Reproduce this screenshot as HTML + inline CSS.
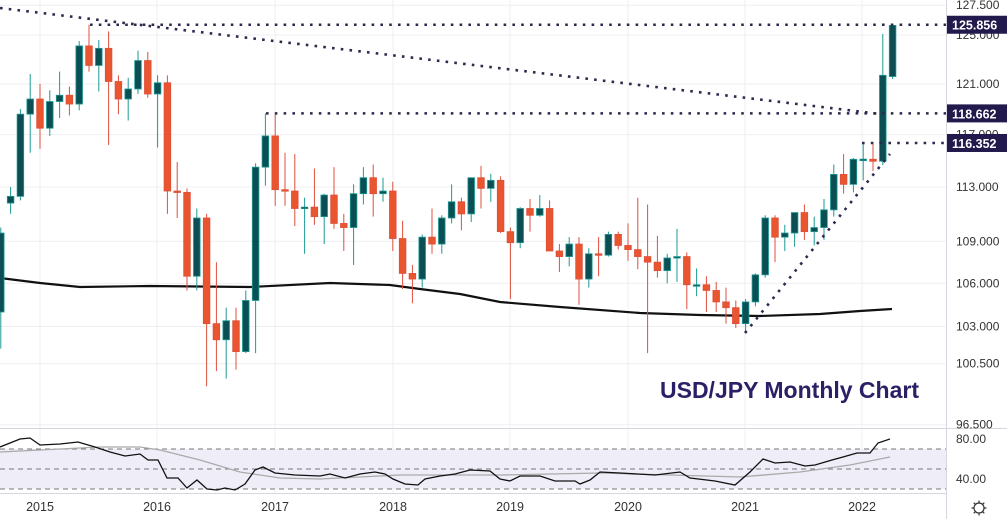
<!DOCTYPE html>
<html><head><meta charset="utf-8"><style>
html,body{margin:0;padding:0;background:#fff;}
svg{display:block;font-family:"Liberation Sans",sans-serif;}
</style></head><body>
<svg id="c" width="1007" height="519" xmlns="http://www.w3.org/2000/svg"></svg>
<script>
const D=[
[104.0,110.0,101.5,109.6],[111.8,113.0,111.0,112.3],[112.3,119.0,112.0,118.6],[118.6,121.8,115.6,119.8],
[119.8,121.0,115.9,117.5],[117.5,120.5,116.9,119.6],[119.6,122.0,118.3,120.1],[120.1,120.8,118.5,119.4],[119.4,124.5,118.9,124.1],[124.1,125.86,122.0,122.5],[122.5,124.6,120.4,123.9],[123.9,125.3,116.2,121.2],[121.2,121.7,118.6,119.8],[119.8,121.5,118.1,120.6],[120.6,123.7,120.2,122.9],[122.9,123.6,119.9,120.2],
[120.2,121.7,116.0,121.1],[121.1,121.7,111.0,112.7],[112.7,114.9,110.7,112.6],[112.6,112.9,105.5,106.5],[106.5,111.4,105.5,110.7],[110.7,111.0,99.0,103.2],[103.2,107.5,100.0,102.1],[102.1,104.3,99.5,103.4],[103.4,104.3,100.1,101.3],[101.3,105.5,101.2,104.8],[104.8,114.8,101.2,114.5],[114.5,118.66,113.1,116.9],
[116.9,118.6,111.6,112.8],[112.8,115.6,111.6,112.7],[112.7,115.5,110.1,111.4],[111.4,112.2,108.1,111.5],[111.5,114.4,110.2,110.8],[110.8,112.5,108.8,112.4],[112.4,114.5,109.9,110.3],[110.3,111.0,108.3,110.0],[110.0,113.2,107.3,112.5],[112.5,114.5,111.7,113.7],[113.7,114.7,110.8,112.5],[112.5,113.7,111.9,112.7],
[112.7,113.4,108.3,109.2],[109.2,110.5,105.6,106.7],[106.7,107.3,104.6,106.3],[106.3,109.5,105.7,109.3],[109.3,111.4,108.1,108.8],[108.8,110.9,108.1,110.7],[110.7,113.2,110.3,111.9],[111.9,112.2,109.8,111.0],[111.0,113.7,110.4,113.7],[113.7,114.6,111.4,112.9],[112.9,114.0,111.9,113.5],[113.5,113.8,109.6,109.7],
[109.7,110.0,104.9,108.9],[108.9,111.5,108.5,111.4],[111.4,112.1,109.7,110.9],[110.9,112.4,110.8,111.4],[111.4,112.0,108.3,108.3],[108.3,108.8,106.8,107.9],[107.9,109.3,107.2,108.8],[108.8,109.3,104.5,106.3],[106.3,108.5,105.7,108.1],[108.1,109.3,106.5,108.0],[108.0,109.7,107.9,109.5],[109.5,109.7,108.4,108.7],
[108.7,110.3,107.6,108.4],[108.4,112.2,107.0,107.9],[107.9,111.7,101.2,107.5],[107.5,109.4,106.4,106.9],[106.9,108.1,106.0,107.8],[107.8,109.9,106.1,107.9],[107.9,108.2,104.2,105.9],[105.9,107.05,105.1,105.9],[105.9,106.5,104.0,105.5],[105.5,106.1,104.0,104.7],[104.7,105.7,103.2,104.3],[104.3,104.8,102.9,103.2],
[103.2,104.9,102.6,104.7],[104.7,106.7,104.4,106.6],[106.6,110.9,106.4,110.7],[110.7,110.9,107.5,109.3],[109.3,110.2,108.3,109.6],[109.6,111.1,108.6,111.1],[111.1,111.7,109.1,109.7],[109.7,110.8,108.7,110.0],[110.0,112.1,109.1,111.3],[111.3,114.7,110.8,113.95],[113.95,115.5,112.5,113.2],[113.2,115.2,112.6,115.1],
[115.08,116.35,113.5,115.11],[115.1,116.3,114.2,114.95],[114.95,125.1,114.65,121.7],[121.6,125.86,121.4,125.8]];
const Y=p=>84+(Math.log(121)-Math.log(p))*1506;
const X=i=>40+(i-4)*9.8;
let s='';
[127.5,125,121,117,113,109,106,103,100.5,96.5].forEach(v=>{let y=Y(v);s+=`<line x1="0" x2="946" y1="${y}" y2="${y}" stroke="#efeff2"/>`;});
[40,157,275,393,510,628,745,862].forEach(x=>{s+=`<line x1="${x}" x2="${x}" y1="0" y2="493" stroke="#efeff2"/>`;});
s+=`<rect x="0" y="449" width="946" height="40" fill="#efedf8"/>`;
[449,469,489].forEach(y=>{s+=`<line x1="0" x2="946" y1="${y}" y2="${y}" stroke="#777" stroke-dasharray="5,4"/>`;});
s+=`<line x1="0" x2="1007" y1="428.5" y2="428.5" stroke="#d6d6de"/><line x1="0" x2="946" y1="493.5" y2="493.5" stroke="#d6d6de"/><line x1="946.5" x2="946.5" y1="0" y2="519" stroke="#d6d6de"/>`;
s+=`<polyline fill="none" stroke="#111" stroke-width="2.2" points="0,278 40,283 80,287 150,286 250,287 330,283 390,285 420,289 460,294 500,302 560,307 640,313 700,315 760,316 820,314 860,311 892,309"/>`;
D.forEach((d,i)=>{const[o,h,l,c]=d;const x=X(i);const up=c>=o;const w=up?'#1d9a93':'#df4f3c';const f=up?'#0b4f55':'#e8552e';
s+=`<line x1="${x}" x2="${x}" y1="${Y(h)}" y2="${Y(l)}" stroke="${w}" stroke-width="1"/>`;
let t=Y(Math.max(o,c)),b=Y(Math.min(o,c));if(b-t<1.5){b=t+1.5;}
s+=`<rect x="${x-3.3}" y="${t}" width="6.6" height="${b-t}" fill="${f}" stroke="${w}" stroke-width="0.8"/>`;});
const dot='stroke="#2d2a4e" stroke-width="2.6" stroke-dasharray="2.6,6.2"';
s+=`<line x1="90" x2="946" y1="${Y(125.856)}" y2="${Y(125.856)}" ${dot}/>`;
s+=`<line x1="266" x2="946" y1="${Y(118.662)}" y2="${Y(118.662)}" ${dot}/>`;
s+=`<line x1="862" x2="946" y1="${Y(116.352)}" y2="${Y(116.352)}" ${dot}/>`;
s+=`<line x1="0" x2="880" y1="8" y2="114" ${dot}/>`;
s+=`<line x1="745" x2="890" y1="333" y2="154" ${dot}/>`;
s+=`<polyline fill="none" stroke="#aaa" stroke-width="1.3" points="0,452 100,447 140,447 160,450 200,460 240,472 280,478 320,479 400,475 500,475 600,473 740,477 800,472 850,465 890,457"/>`;
s+=`<polyline fill="none" stroke="#111" stroke-width="1.3" points="0,447 20,439 30,438 40,445 60,444 78,442 95,447 110,452 125,456 140,454 148,460 158,460 167,478 178,478 187,488 197,480 207,489 217,490 225,488 235,490 245,484 255,470 263,467 275,473 295,475 320,476 330,474 345,478 360,474 375,472 385,474 393,479 405,484 418,485 425,479 440,476 455,474 470,470 490,471 500,479 510,481 520,476 540,476 555,481 575,481 580,484 590,480 600,472 620,473 655,475 680,472 690,478 715,481 735,485 750,472 763,459 775,463 790,462 805,466 815,465 832,460 843,457 857,453 870,453 878,443 890,439"/>`;
[[127.5,'127.500'],[125,'125.000'],[121,'121.000'],[117,'117.000'],[113,'113.000'],[109,'109.000'],[106,'106.000'],[103,'103.000'],[100.5,'100.500'],[96.5,'96.500']].forEach(([v,t])=>{s+=`<text x="956" y="${Y(v)+4}" font-size="12" fill="#333">${t}</text>`;});
s+=`<text x="956" y="443" font-size="12" fill="#333">80.00</text><text x="956" y="483" font-size="12" fill="#333">40.00</text>`;
[[125.856,'125.856'],[118.662,'118.662'],[116.352,'116.352']].forEach(([v,t])=>{const y=Y(v);s+=`<rect x="947" y="${y-9}" width="60" height="18" fill="#221a4d"/><text x="952" y="${y+5}" font-size="12.5" font-weight="bold" fill="#fff">${t}</text>`;});
[[40,'2015'],[157,'2016'],[275,'2017'],[393,'2018'],[510,'2019'],[628,'2020'],[745,'2021'],[862,'2022']].forEach(([x,t])=>{s+=`<text x="${x}" y="511" font-size="12.5" fill="#333" text-anchor="middle">${t}</text>`;});
s+=`<circle cx="979" cy="508" r="5" fill="none" stroke="#333" stroke-width="1.2"/>`;
[0,45,90,135,180,225,270,315].forEach(a=>{const r=a*Math.PI/180;s+=`<line x1="${979+5*Math.cos(r)}" y1="${508+5*Math.sin(r)}" x2="${979+7.5*Math.cos(r)}" y2="${508+7.5*Math.sin(r)}" stroke="#333" stroke-width="1.2"/>`;});
s+=`<text x="660" y="398" font-size="23" font-weight="bold" fill="#2b2066">USD/JPY Monthly Chart</text>`;
document.getElementById('c').innerHTML=s;
</script>
</body></html>
